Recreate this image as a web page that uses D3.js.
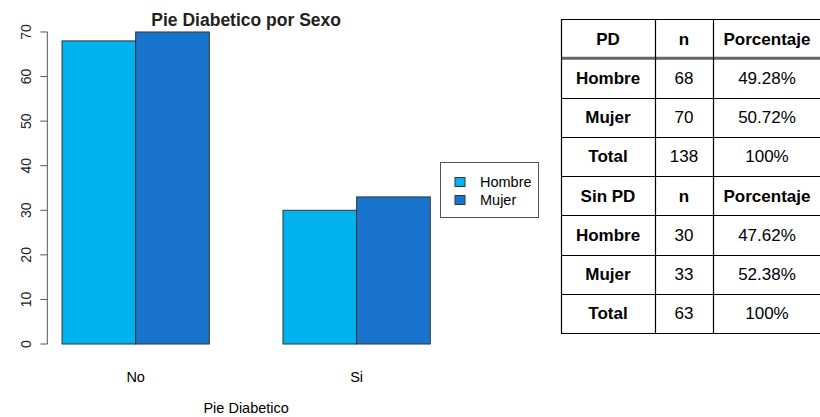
<!DOCTYPE html>
<html>
<head>
<meta charset="utf-8">
<script src="https://cdn.jsdelivr.net/npm/d3@7"></script>
<style>
  body { margin: 0; background: #fff; }
  svg { display: block; font-family: "Liberation Sans", Arial, sans-serif; }
</style>
</head>
<body>
<svg id="chart" width="820" height="417"></svg>
<script>
// ---- data ----
var categories = ["No", "Si"];
var series = ["Hombre", "Mujer"];
var hombreValues = [68, 30];
var mujerValues = [70, 33];
var yTicks = [0, 10, 20, 30, 40, 50, 60, 70];

var tableHeadPD = ["PD", "n", "Porcentaje"];
var tableRowsPD = [["Hombre", "68", "49.28%"], ["Mujer", "70", "50.72%"], ["Total", "138", "100%"]];
var tableHeadSin = ["Sin PD", "n", "Porcentaje"];
var tableRowsSin = [["Hombre", "30", "47.62%"], ["Mujer", "33", "52.38%"], ["Total", "63", "100%"]];

var colours = ["#00B2EE", "#1874CD"];

var svg = d3.select("#chart");

// R style barplot: bars at [1,2],[2,3],[4,5],[5,6], xlim padded 4%
var x = d3.scaleLinear().domain([0.8, 6.2]).range([47.3, 445]);
var y = d3.scaleLinear().domain([-2.8, 72.8]).range([356.5, 19.5]);

var bars = [];
categories.forEach(function(c, i) {
	var start = 1 + i * 3;
	bars.push({cat: c, s: 0, v: hombreValues[i], x0: start});
	bars.push({cat: c, s: 1, v: mujerValues[i], x0: start + 1});
});

svg.selectAll("rect.bar")
	.data(bars)
	.enter().append("rect")
	.attr("class", "bar")
	.attr("x", function(d) { return x(d.x0); })
	.attr("width", function(d) { return x(d.x0 + 1) - x(d.x0); })
	.attr("y", function(d) { return y(d.v); })
	.attr("height", function(d) { return y(0) - y(d.v); })
	.style("fill", function(d) { return colours[d.s]; })
	.style("stroke", "#333")
	.style("stroke-width", 1);

// y axis (R style, rotated labels)
var yAxis = svg.append("g").attr("transform", "translate(" + x(0.8) + ",0)");
yAxis.append("line")
	.attr("x1", 0).attr("x2", 0)
	.attr("y1", y(0)).attr("y2", y(70))
	.style("stroke", "#555");
yAxis.selectAll("line.tick")
	.data(yTicks)
	.enter().append("line")
	.attr("class", "tick")
	.attr("x1", -7).attr("x2", 0)
	.attr("y1", function(d) { return y(d); })
	.attr("y2", function(d) { return y(d); })
	.style("stroke", "#555");
yAxis.selectAll("text")
	.data(yTicks)
	.enter().append("text")
	.attr("transform", function(d) { return "translate(-21," + y(d) + ") rotate(-90)"; })
	.attr("text-anchor", "middle")
	.attr("dy", "0.35em")
	.style("font-size", "14px")
	.style("fill", "#222")
	.text(function(d) { return d; });

// category labels
svg.selectAll("text.cat")
	.data(categories)
	.enter().append("text")
	.attr("class", "cat")
	.attr("x", function(d, i) { return x(2 + i * 3); })
	.attr("y", 377)
	.attr("dy", "0.35em")
	.attr("text-anchor", "middle")
	.style("font-size", "14.5px")
	.text(function(d) { return d; });

svg.append("text")
	.attr("x", x(3.5))
	.attr("y", 408)
	.attr("dy", "0.35em")
	.attr("text-anchor", "middle")
	.style("font-size", "14.5px")
	.text("Pie Diabetico");

svg.append("text")
	.attr("x", x(3.5))
	.attr("y", 20)
	.attr("dy", "0.35em")
	.attr("text-anchor", "middle")
	.style("font-size", "17.5px")
	.style("font-weight", "bold")
	.style("fill", "#222")
	.text("Pie Diabetico por Sexo");

// legend
var legend = svg.append("g").attr("transform", "translate(440.5,162.5)");
legend.append("rect")
	.attr("width", 98).attr("height", 55)
	.style("fill", "#fff").style("stroke", "#555");
var li = legend.selectAll("g.item")
	.data(series)
	.enter().append("g")
	.attr("class", "item")
	.attr("transform", function(d, i) { return "translate(0," + (19.5 + i * 18) + ")"; });
li.append("rect")
	.attr("x", 14.5).attr("y", -4.5)
	.attr("width", 10).attr("height", 9)
	.style("fill", function(d, i) { return colours[i]; })
	.style("stroke", "#333");
li.append("text")
	.attr("x", 39.5)
	.attr("dy", "0.35em")
	.style("font-size", "14.5px")
	.text(function(d) { return d; });

// table
var colX = [561, 655, 713, 830];
var rowH = 39.25;
var tableTop = 19;
var tableRows = [
	{cells: tableHeadPD, bold: [true, true, true]},
	{cells: tableRowsPD[0], bold: [true, false, false]},
	{cells: tableRowsPD[1], bold: [true, false, false]},
	{cells: tableRowsPD[2], bold: [true, false, false]},
	{cells: tableHeadSin, bold: [true, true, true]},
	{cells: tableRowsSin[0], bold: [true, false, false]},
	{cells: tableRowsSin[1], bold: [true, false, false]},
	{cells: tableRowsSin[2], bold: [true, false, false]}
];
var tbl = svg.append("g");
tableRows.forEach(function(r, ri) {
	var ry = tableTop + ri * rowH;
	r.cells.forEach(function(c, ci) {
		tbl.append("text")
			.attr("x", (colX[ci] + Math.min(colX[ci + 1], 821)) / 2)
			.attr("y", ry + rowH / 2)
			.attr("dy", "0.35em")
			.attr("text-anchor", "middle")
			.style("font-size", "17px")
			.style("font-weight", r.bold[ci] ? "bold" : "normal")
			.text(c);
	});
});
// horizontal lines
d3.range(9).forEach(function(i) {
	if (i === 1) return;
	tbl.append("line")
		.attr("x1", colX[0]).attr("x2", colX[3])
		.attr("y1", Math.round(tableTop + i * rowH) + 0.5)
		.attr("y2", Math.round(tableTop + i * rowH) + 0.5)
		.style("stroke", "#000").style("stroke-width", 1.2);
});
tbl.append("line")
	.attr("x1", colX[0]).attr("x2", colX[3])
	.attr("y1", tableTop + rowH).attr("y2", tableTop + rowH)
	.style("stroke", "#666").style("stroke-width", 3);
colX.slice(0, 3).forEach(function(cx) {
	tbl.append("line")
		.attr("x1", cx + 0.5).attr("x2", cx + 0.5)
		.attr("y1", tableTop).attr("y2", tableTop + 8 * rowH)
		.style("stroke", "#000").style("stroke-width", 1.2);
});
</script>
</body>
</html>
